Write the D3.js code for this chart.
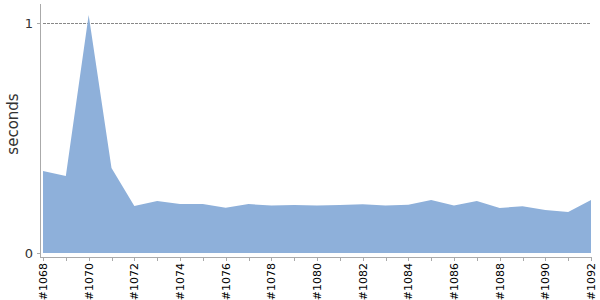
<!DOCTYPE html>
<html>
  <head>
    <meta charset="UTF-8" />
    <title>seconds per build</title>
    <style>
      body { margin: 0; background: #fff; }
      .x-label { font-family: "DejaVu Sans", sans-serif; font-size: 11px; fill: #000; }
      .y-label { font-family: "DejaVu Sans", sans-serif; font-size: 13px; fill: #333; }
      .axis-title { font-family: "DejaVu Sans", sans-serif; font-size: 15px; fill: #333; }
    </style>
  </head>
  <body>
    <script src="https://d3js.org/d3.v7.min.js"></script>
    <script>
      const builds = [
        "#1068", "#1069", "#1070", "#1071", "#1072", "#1073", "#1074", "#1075",
        "#1076", "#1077", "#1078", "#1079", "#1080", "#1081", "#1082", "#1083",
        "#1084", "#1085", "#1086", "#1087", "#1088", "#1089", "#1090", "#1091", "#1092",
      ];
      const seconds = [
        0.357, 0.335, 1.035, 0.37, 0.204, 0.226, 0.213, 0.213,
        0.197, 0.213, 0.206, 0.209, 0.206, 0.209, 0.212, 0.206,
        0.21, 0.23, 0.206, 0.226, 0.196, 0.203, 0.187, 0.178, 0.23,
      ];
      const yTicks = [0, 1];

      const width = 600;
      const height = 300;

      const svg = d3.select("body").append("svg")
        .attr("width", width)
        .attr("height", height);

      const x = d3.scalePoint()
        .domain(builds)
        .range([43, 591]);

      const y = d3.scaleLinear()
        .domain([0, 1])
        .range([253, 23]);

      // reference line at 1
      svg.append("line")
        .attr("x1", 43)
        .attr("x2", 591)
        .attr("y1", y(1) + 0.5)
        .attr("y2", y(1) + 0.5)
        .attr("stroke", "#888")
        .attr("stroke-width", 1)
        .attr("stroke-dasharray", "3,1");

      const area = d3.area()
        .x((d, i) => x(builds[i]))
        .y0(y(0))
        .y1((d) => y(d));

      svg.append("path")
        .datum(seconds)
        .attr("d", area)
        .attr("fill", "#8eb0da");

      // y axis
      svg.append("line")
        .attr("x1", 40.5).attr("x2", 40.5)
        .attr("y1", 4).attr("y2", 257)
        .attr("stroke", "#aaa");

      svg.append("g")
        .selectAll("line")
        .data(yTicks)
        .join("line")
        .attr("x1", 37).attr("x2", 40)
        .attr("y1", (d) => y(d) + 0.5)
        .attr("y2", (d) => y(d) + 0.5)
        .attr("stroke", "#aaa");

      svg.append("g")
        .selectAll("text")
        .data(yTicks)
        .join("text")
        .attr("class", "y-label")
        .attr("x", 33)
        .attr("y", (d) => y(d))
        .attr("dy", "0.35em")
        .attr("text-anchor", "end")
        .text((d) => d);

      svg.append("text")
        .attr("class", "axis-title")
        .attr("transform", `translate(18, ${124}) rotate(-90)`)
        .attr("text-anchor", "middle")
        .text("seconds");

      // x axis
      svg.append("line")
        .attr("x1", 40).attr("x2", 592)
        .attr("y1", 257.5).attr("y2", 257.5)
        .attr("stroke", "#aaa");

      svg.append("g")
        .selectAll("line")
        .data(builds)
        .join("line")
        .attr("x1", (d) => Math.round(x(d)) + 0.5)
        .attr("x2", (d) => Math.round(x(d)) + 0.5)
        .attr("y1", 257)
        .attr("y2", 261)
        .attr("stroke", "#aaa");

      svg.append("g")
        .selectAll("text")
        .data(builds.filter((d, i) => i % 2 === 0))
        .join("text")
        .attr("class", "x-label")
        .attr("transform", (d) => `translate(${x(d) + 4}, 263) rotate(-90)`)
        .attr("text-anchor", "end")
        .text((d) => d);
    </script>
  </body>
</html>
